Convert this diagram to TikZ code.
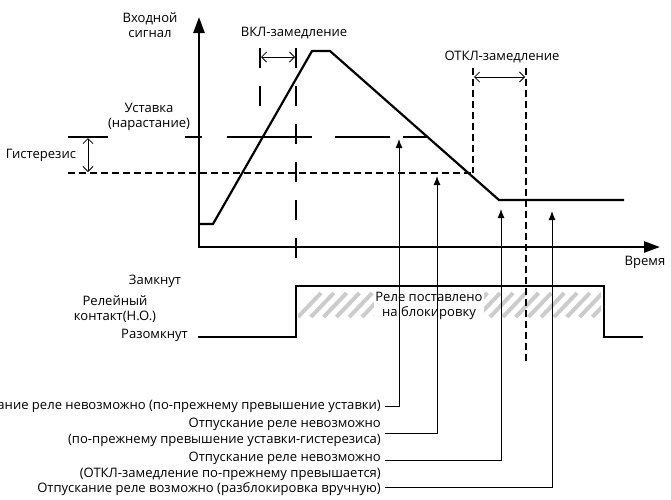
\documentclass[tikz,border=0pt]{standalone}
\usepackage{fontspec}
\setmainfont{Open Sans}
\usetikzlibrary{arrows.meta}
\tikzset{
  axis/.style={line width=2.5pt,-{Triangle[length=16pt,width=11pt]}},
  sig/.style={line width=2.2pt},
  ldash/.style={line width=2.2pt,dash pattern=on 20pt off 18pt},
  sdash/.style={line width=2.2pt,dash pattern=on 7pt off 4pt},
  solidseg/.style={line width=2.2pt},
  dimarr/.style={line width=0.8pt,{Straight Barb[length=5pt,width=10pt]}-{Straight Barb[length=5pt,width=10pt]}},
  ptr/.style={line width=1pt,-{Latex[length=9pt,width=7pt]}},
  lbl/.style={align=right,anchor=east,inner sep=0pt},
  txt/.style={inner sep=0pt,align=center},
  hatch/.style={line width=4pt,draw=black!20},
}
\begin{document}
\begin{tikzpicture}[x=1pt,y=-1pt,font=\fontsize{13.05}{15.5}\selectfont]
\useasboundingbox (0,0) rectangle (671,499);

% key coordinates
\coordinate (o) at (199,247);
\coordinate (ytip) at (199,17);
\coordinate (xtip) at (660,247);
\coordinate (s0) at (199,224);
\coordinate (s1) at (213,224);
\coordinate (s2) at (312,51);
\coordinate (s3) at (330,51);
\coordinate (s4) at (499,200);
\coordinate (s5) at (624,200);

% hatch (relay blocked)
\begin{scope}
\clip (298,290) rectangle (601,320);
\foreach \k in {0,...,23}{
  \draw[hatch] ({298+12.8*\k},317) -- ({321+12.8*\k},293);
}
\end{scope}
\node[txt,fill=white,inner xsep=1pt,inner ysep=0pt] (blk) at (429,306) {Реле поставлено\\на блокировку};

% axes
\draw[axis] ([yshift=1.25pt]o) -- (ytip);
\draw[axis] ([xshift=-1.25pt]o) -- (xtip);

% setpoint (long dashes) and hysteresis (short dashes)
\draw[solidseg] (68,137) -- (108,137);
\draw[solidseg] (185,137) -- (202,137);
\draw[solidseg] (227,137) -- (312,137);
\draw[solidseg] (335,137) -- (390,137);
\draw[solidseg] (403,137) -- (428,137);
\draw[sdash] (68,173) -- (473,173);

% delay markers
\draw[ldash] (260,48) -- (260,106);
\draw[ldash] (296,48) -- (296,258);
\draw[sdash] (473,68) -- (473,173);
\draw[sdash] (526,68) -- (526,362);

% dimension arrows
\draw[dimarr] (88,138) -- (88,172);
\draw[dimarr] (261,57) -- (295,57);
\draw[dimarr] (474,77) -- (525,77);

% input signal
\draw[sig,line join=miter] (s0) -- (s1) -- (s2) -- (s3) -- (s4) -- (s5);

% relay contact
\draw[line width=2.5pt] (198,337) -- (296,337) -- (296,286) -- (604,286) -- (604,337) -- (643,337);

% texts
\node[txt] (yl) at (150,25) {Входной\\сигнал};
\node[txt] (vkl) at (294,33) {ВКЛ-замедление};
\node[txt] (otkl) at (502,57) {ОТКЛ-замедление};
\node[txt] (ust) at (149,117) {Уставка\\(нарастание)};
\node[txt] (gis) at (41,155) {Гистерезис};
\node[txt] (time) at (645,262) {Время};
\node[txt] (zam) at (155,281) {Замкнут};
\node[txt] (rel) at (115,309) {Релейный\\контакт(Н.О.)};
\node[txt,anchor=east] (raz) at (188,335) {Разомкнут};

% bottom labels
\node[lbl] (l1) at (381,406) {Отпускание реле невозможно (по-прежнему превышение уставки)};
\node[lbl] (l2) at (381,432.5) {Отпускание реле невозможно\\(по-прежнему превышение уставки-гистерезиса)};
\node[lbl] (l3) at (381,466.5) {Отпускание реле невозможно\\(ОТКЛ-замедление по-прежнему превышается)};
\node[lbl] (l4) at (381,489) {Отпускание реле возможно (разблокировка вручную)};

\coordinate (t1) at (399,139);
\coordinate (t2) at (437,176);
\coordinate (t3) at (501,209);
\coordinate (t4) at (552,211);
\coordinate (c1) at (399,406);
\coordinate (c2) at (437,433);
\coordinate (c3) at (501,460);
\coordinate (c4) at (552,487);

\draw[ptr] ([xshift=4pt]l1.east |- c1) -- (c1) -- (t1);
\draw[ptr] ([xshift=4pt]l2.east |- c2) -- (c2) -- (t2);
\draw[ptr] ([xshift=4pt]l3.east |- c3) -- (c3) -- (t3);
\draw[ptr] ([xshift=4pt]l4.east |- c4) -- (c4) -- (t4);
\end{tikzpicture}
\end{document}
